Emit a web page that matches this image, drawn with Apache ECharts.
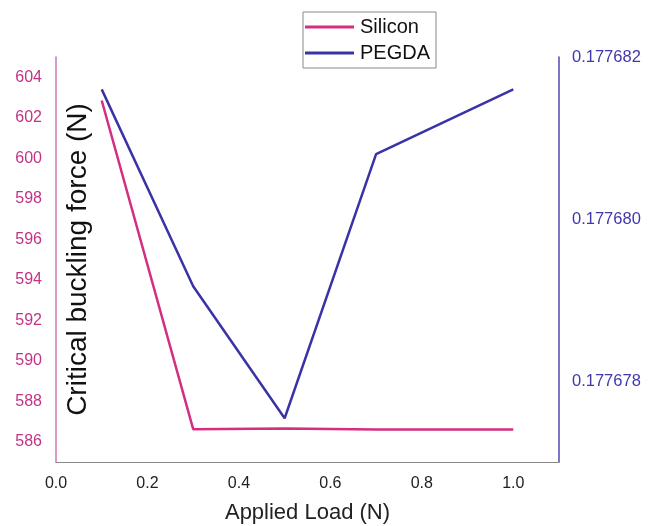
<!DOCTYPE html>
<html>
<head>
<meta charset="utf-8">
<script src="https://cdn.jsdelivr.net/npm/echarts@6/dist/echarts.min.js"></script>
<style>
html,body{margin:0;padding:0;background:#fff;}
#chart{width:648px;height:526px;}
</style>
</head>
<body>
<div id="chart"></div>
<script>
const loads = [0.1, 0.3, 0.5, 0.7, 1.0];
const silicon = [602.85, 586.62, 586.65, 586.6, 586.6];
const pegda = [0.1776816, 0.17767917, 0.17767754, 0.1776808, 0.1776816];
const seriesNames = ['Silicon', 'PEGDA'];
const xTitle = 'Applied Load (N)';
const yTitle = 'Critical buckling force (N)';

const font = 'Liberation Sans, Arial, sans-serif';
const pink = '#d42e80';
const blue = '#3a33a6';

const chart = echarts.init(document.getElementById('chart'), null, {renderer: 'canvas'});
chart.setOption({
  animation: false,
  backgroundColor: '#fff',
  textStyle: {fontFamily: font},
  grid: {left: 56, right: 89, top: 57, bottom: 64, containLabel: false, outerBoundsMode: 'none'},
  legend: {
    data: seriesNames,
    orient: 'vertical',
    left: 303, top: 12,
    padding: [4, 6, 4, 2],
    itemGap: 4,
    icon: 'rect',
    itemWidth: 49, itemHeight: 3,
    borderColor: '#888', borderWidth: 1,
    textStyle: {fontFamily: font, fontSize: 20, color: '#111', lineHeight: 22, padding: [0, 0, 0, 1]}
  },
  xAxis: {
    type: 'value', min: 0, max: 1.1, interval: 0.2,
    name: xTitle, nameLocation: 'middle', nameGap: 40,
    nameTextStyle: {fontFamily: font, fontSize: 22, color: '#222'},
    axisLine: {show: true, lineStyle: {color: '#888', width: 1}},
    axisTick: {show: false},
    splitLine: {show: false},
    axisLabel: {showMaxLabel: false, fontFamily: font, fontSize: 16, color: '#222', margin: 14,
      formatter: v => v.toFixed(1)}
  },
  yAxis: [
    {
      type: 'value', min: 585, max: 605, interval: 1, position: 'left',
      name: yTitle, nameLocation: 'middle', nameGap: -36, nameRotate: 90, nameMoveOverlap: false,
      nameTextStyle: {fontFamily: font, fontSize: 28, color: '#111'},
      axisLine: {show: true, lineStyle: {color: '#cc78b8', width: 1.5}},
      axisTick: {show: false},
      splitLine: {show: false},
      axisLabel: {fontFamily: font, fontSize: 16, color: '#c23385', margin: 14,
        showMinLabel: false, showMaxLabel: false,
        formatter: v => (Math.round(v) % 2 === 0 ? String(Math.round(v)) : '')}
    },
    {
      type: 'value', min: 0.177677, max: 0.177682, interval: 0.000001, position: 'right',
      axisLine: {show: true, lineStyle: {color: '#5148b6', width: 1.5}},
      axisTick: {show: false},
      splitLine: {show: false},
      axisLabel: {fontFamily: font, fontSize: 16.5, color: '#3f37ab', margin: 13,
        formatter: v => { const k = Math.round(v * 1e6); return k % 2 === 0 ? (k / 1e6).toFixed(6) : ''; }}
    }
  ],
  series: [
    {
      name: seriesNames[0], type: 'line', yAxisIndex: 0, symbol: 'none',
      data: loads.map((x, i) => [x, silicon[i]]),
      lineStyle: {color: pink, width: 2.5}, itemStyle: {color: pink}
    },
    {
      name: seriesNames[1], type: 'line', yAxisIndex: 1, symbol: 'none',
      data: loads.map((x, i) => [x, pegda[i]]),
      lineStyle: {color: blue, width: 2.5}, itemStyle: {color: blue}
    }
  ]
});
</script>
</body>
</html>
